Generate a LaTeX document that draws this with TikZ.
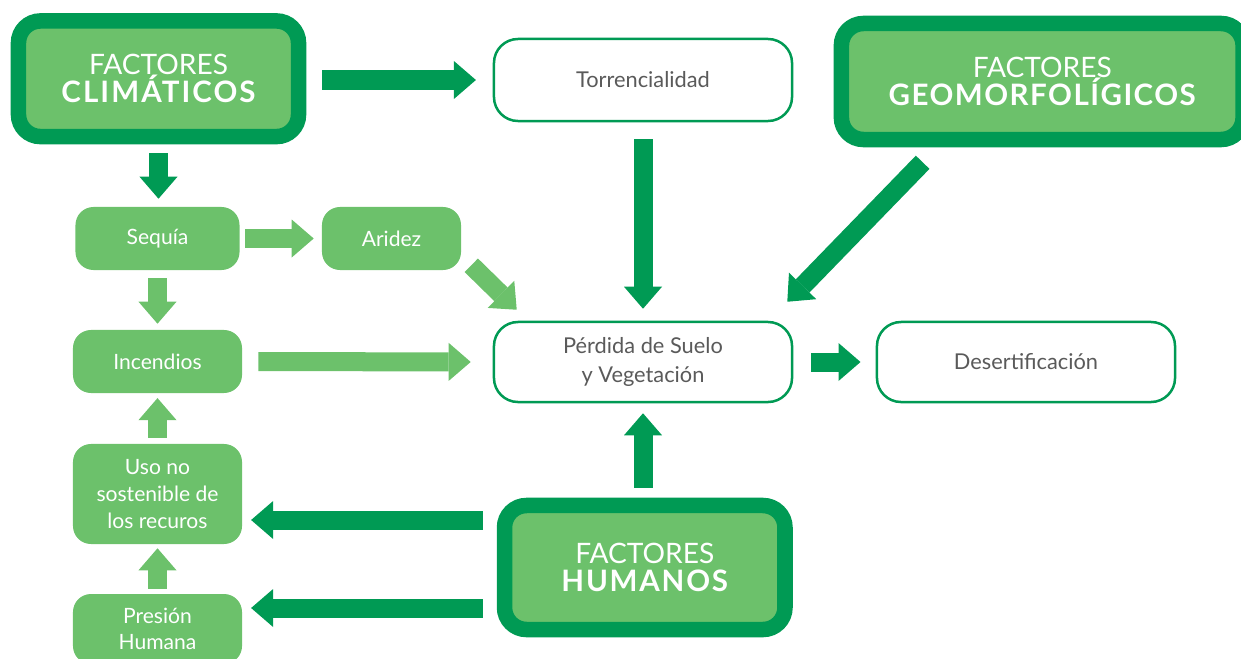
\documentclass[tikz,border=0pt]{standalone}
\usepackage{fontspec}
\setmainfont{Lato}
\usetikzlibrary{arrows.meta,calc}

\begin{document}
\begin{tikzpicture}[x=0.025cm,y=-0.025cm,
  bigbox/.style={draw=col_dark,fill=col_light,line width=0.3875cm,rounded corners=0.55cm,
    inner sep=0pt,align=center,text=white,font=\fontsize{20}{20}\selectfont},
  whitebox/.style={draw=col_dark,fill=white,line width=0.0625cm,rounded corners=0.6cm,
    inner sep=0pt,align=center,text=col_text,font=\fontsize{15.5}{20.5}\selectfont},
  greenbox/.style={fill=col_light,rounded corners=0.45cm,
    inner sep=0pt,align=center,text=white,font=\fontsize{15}{19}\selectfont},
  blockarrow/.style={line width=0.475cm,-{Triangle[width=0.95cm,length=0.55cm,line width=0pt]}},
  dkarrow/.style={blockarrow,draw=col_dark},
  ltarrow/.style={blockarrow,draw=col_light}]
%
\definecolor{col_dark}{HTML}{009A54}
\definecolor{col_light}{HTML}{6CC16B}
\definecolor{col_text}{HTML}{5A5A5A}
%
\useasboundingbox (0,0) rectangle (1241,658);
%
% factores
\node[bigbox,minimum width=7cm,minimum height=2.89cm] (clim) at (158.5,78.75)
  {FACTORES\\{\fontsize{21}{20}\selectfont\bfseries\addfontfeatures{LetterSpace=7}CLIMÁTICOS}};
\node[bigbox,minimum width=10.04cm,minimum height=2.9cm] (geo) at (1042.25,81.5)
  {FACTORES\\{\fontsize{21}{20}\selectfont\bfseries\addfontfeatures{LetterSpace=5}GEOMORFOLÍGICOS}};
\node[bigbox,minimum width=7.01cm,minimum height=3.1cm] (hum) at (644.75,567.5)
  {FACTORES\\{\fontsize{21}{20}\selectfont\bfseries\addfontfeatures{LetterSpace=6}HUMANOS}};
%
% efectos
\node[whitebox,minimum width=7.45cm,minimum height=2.05cm] (torr) at (643,80) {Torrencialidad};
\node[whitebox,minimum width=7.45cm,minimum height=2cm] (perdida) at (643,362) {Pérdida de Suelo\\y Vegetación};
\node[whitebox,minimum width=7.45cm,minimum height=2cm] (desert) at (1026,362) {Desertificación};
%
% causas
\node[greenbox,minimum width=4.1cm,minimum height=1.575cm] (sequia) at (157.5,238.5) {Sequía};
\node[greenbox,minimum width=3.475cm,minimum height=1.575cm] (aridez) at (391.5,238.5) {Aridez};
\node[greenbox,minimum width=4.225cm,minimum height=1.575cm] (incendios) at (157.5,361.5) {Incendios};
\node[greenbox,minimum width=4.225cm,minimum height=2.5cm] (uso) at (157.5,494) {Uso no\\sostenible de\\los recuros};
\node[greenbox,minimum width=4.225cm,minimum height=1.75cm] (presion) at (157.5,629) {Presión\\Humana};
%
\coordinate (rowuso) at (0,520);
\coordinate (rowpres) at (0,608);
%
% flechas
\draw[dkarrow,shorten <=0.4cm,shorten >=0.42cm] (clim.east |- torr.west) -- (torr.west);
\draw[dkarrow,shorten <=0.22cm,shorten >=0.2cm] (clim.south) -- (clim.south |- sequia.north);
\draw[ltarrow,shorten <=0.14cm,shorten >=0.2cm] (sequia.east) -- (aridez.west);
\draw[ltarrow,shorten <=0.2cm,shorten >=0.15cm] (sequia.south) -- (incendios.north);
\draw[ltarrow] ($(aridez.south east)+(10,-5)$) -- ($(perdida.north west)+(24,-11)$);
\draw[dkarrow,shorten <=0.42cm,shorten >=0.3cm] (torr.south) -- (perdida.north);
\draw[dkarrow] ($(geo.south west)+(89,15)$) -- ($(perdida.north east)+(-6,-19)$);
\draw[ltarrow,shorten <=0.4cm,shorten >=0.55cm] (incendios.east) -- (perdida.west);
\draw[dkarrow,shorten <=0.45cm,shorten >=0.38cm] (perdida.east) -- (desert.west);
\draw[dkarrow,shorten <=0.25cm,shorten >=0.25cm] (perdida.south |- hum.north) -- (perdida.south);
\draw[dkarrow,shorten <=0.35cm,shorten >=0.22cm] (hum.west |- rowuso) -- (uso.east |- rowuso);
\draw[dkarrow,shorten <=0.35cm,shorten >=0.22cm] (hum.west |- rowpres) -- (presion.east |- rowpres);
\draw[ltarrow,shorten <=0.15cm,shorten >=0.12cm] (uso.north) -- (incendios.south);
\draw[ltarrow,shorten <=0.12cm,shorten >=0.1cm] (presion.north) -- (uso.south);
%
\end{tikzpicture}
\end{document}
